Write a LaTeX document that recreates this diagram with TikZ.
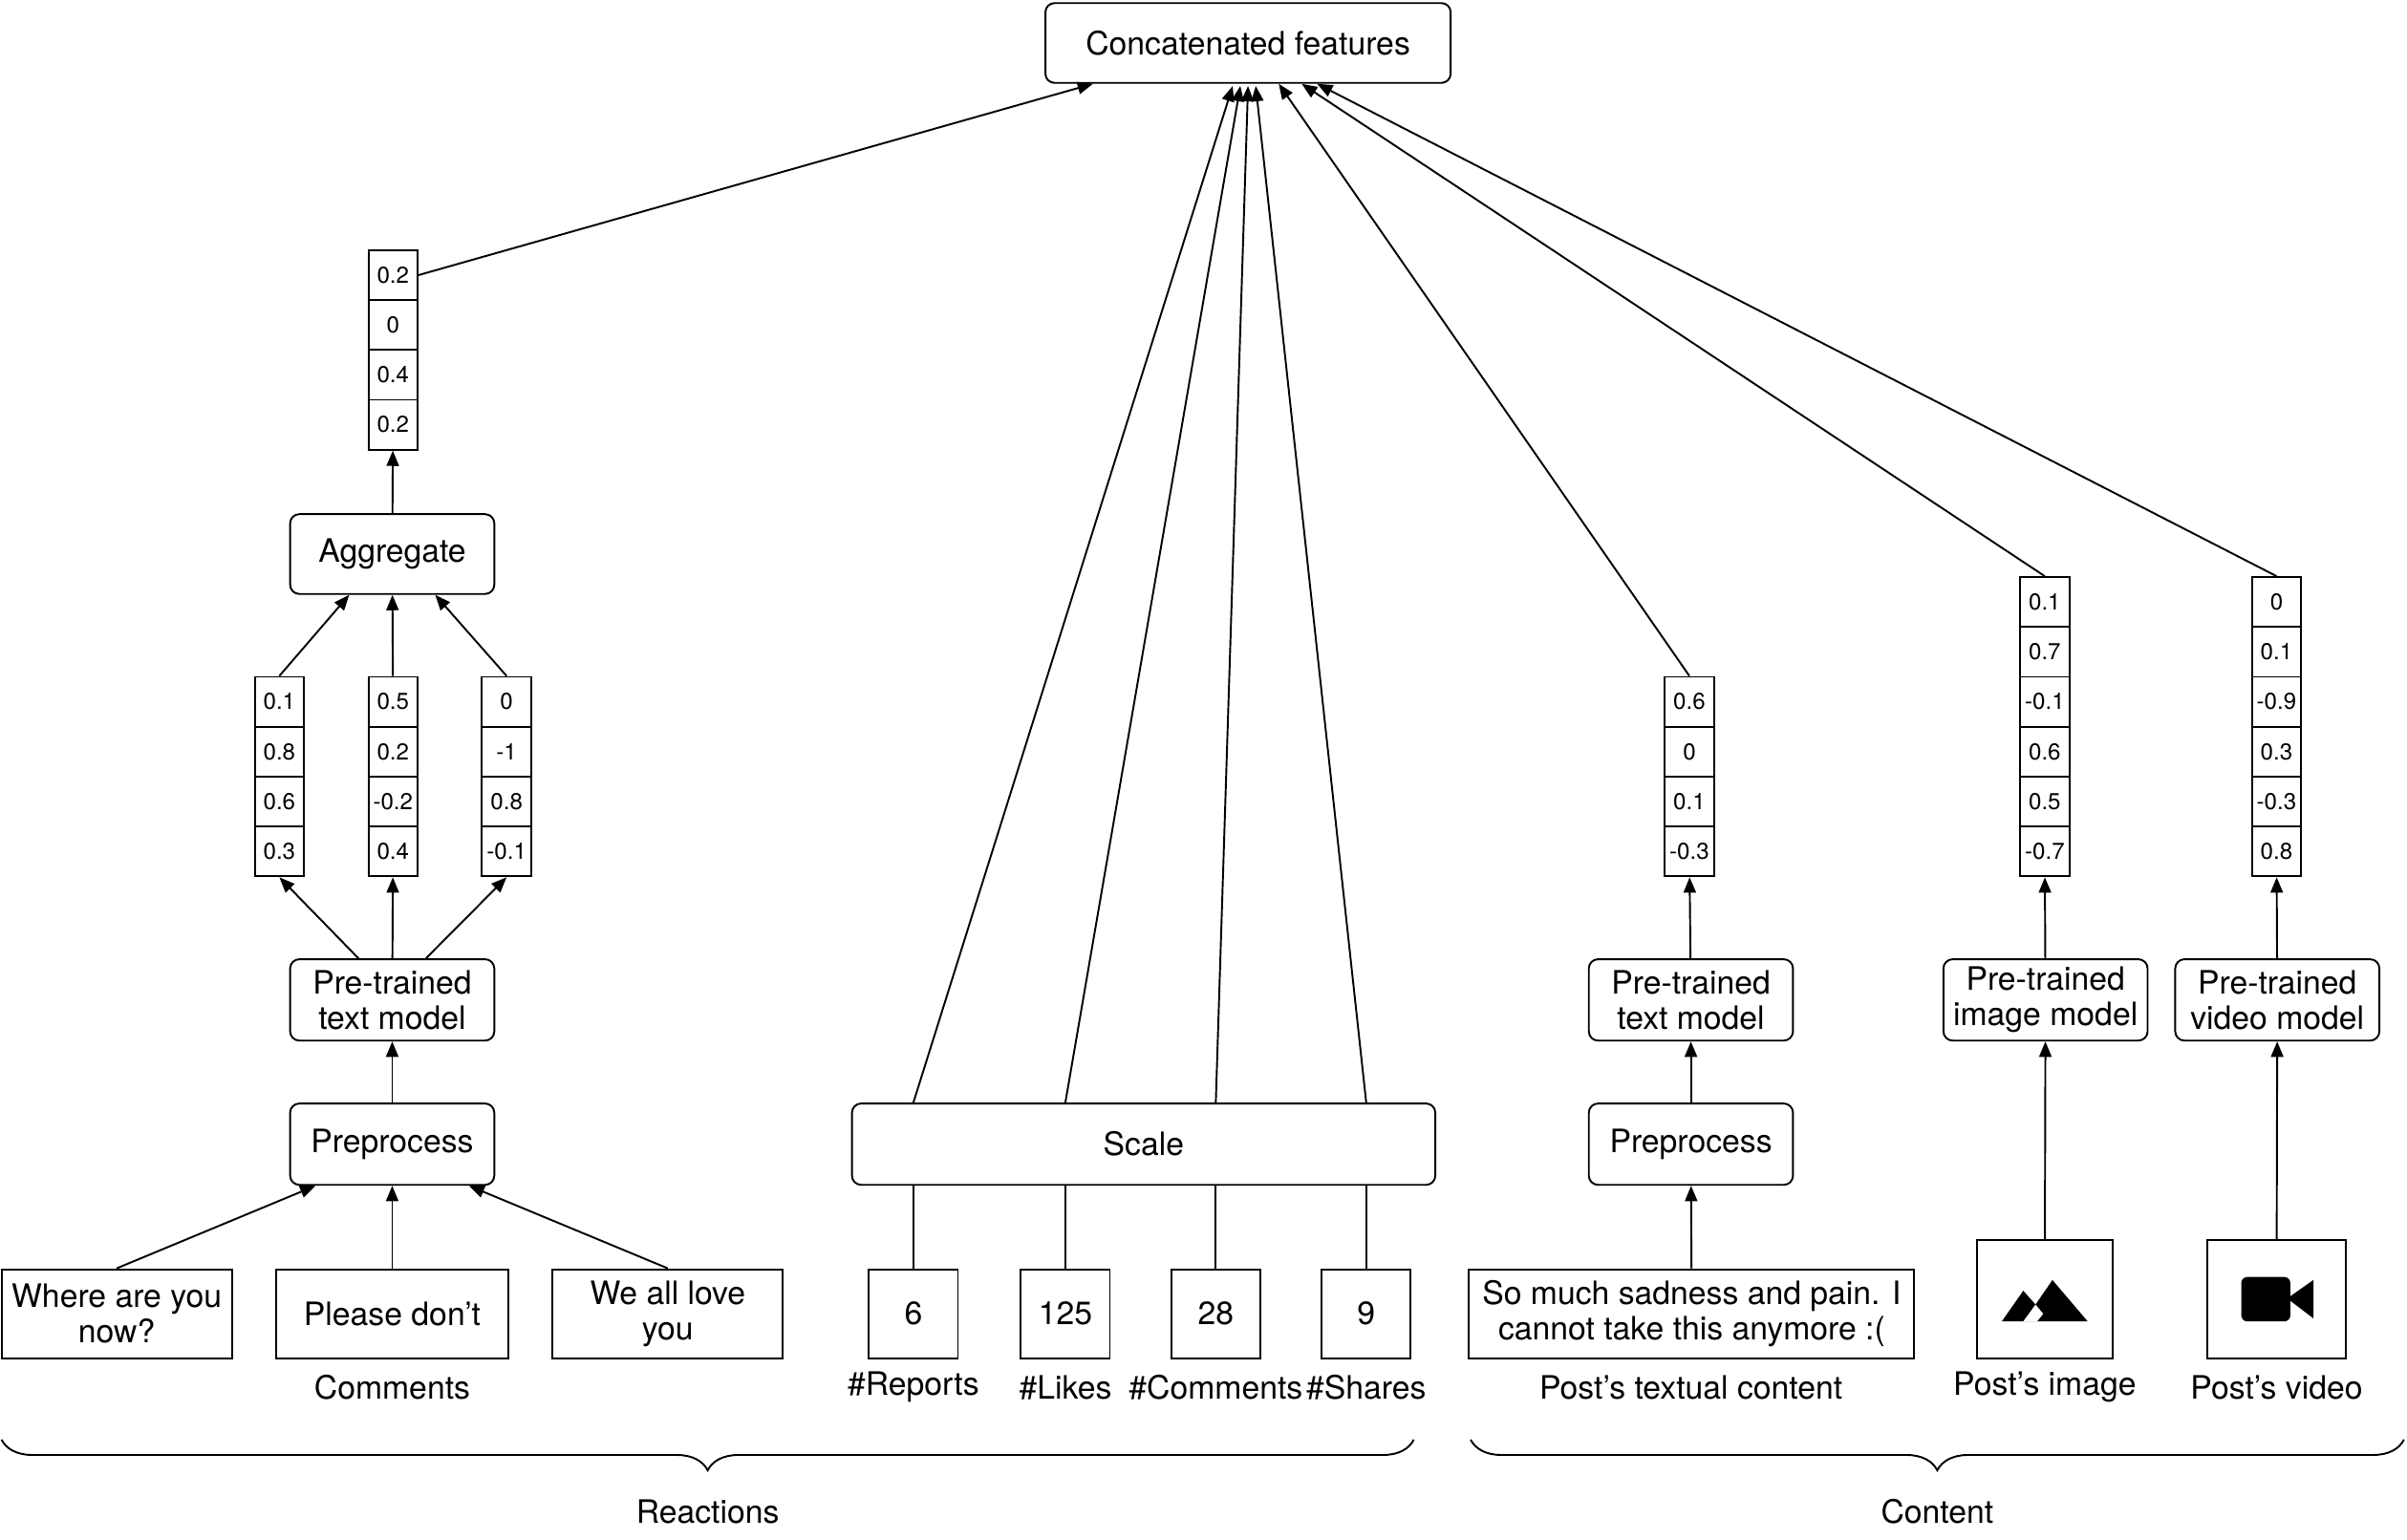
\documentclass[tikz,border=0pt]{standalone}
\usepackage{fontspec}
\setmainfont{TeX Gyre Heros}
\usetikzlibrary{arrows.meta,decorations.pathreplacing}
\begin{document}
\begin{tikzpicture}[x=0.5pt,y=-0.5pt,
  box/.style={draw,rounded corners=3pt,line width=0.6pt,align=center,font=\fontsize{10.5}{11.5}\selectfont,inner sep=0pt},
  sq/.style={draw,line width=0.6pt,align=center,font=\fontsize{10.5}{11.5}\selectfont,inner sep=0pt},
  cell/.style={draw,line width=0.6pt,minimum width=16pt,minimum height=16.25pt,inner sep=0pt,font=\fontsize{7.5}{8}\selectfont},
  lab/.style={font=\fontsize{10.5}{11.5}\selectfont},
  arr/.style={-{Triangle[length=5pt,width=4pt]},line width=0.6pt},
  ln/.style={line width=0.6pt}]
\useasboundingbox (0,0) rectangle (1568,1003);
\newcommand{\vect}[4]{% name, x, ytop, values
  \foreach \v [count=\i] in {#4}{
    \node[cell] (#1\i) at (#2,{#3+16.25+32.5*(\i-1)}) {\v};}}
\node[box,minimum width=132pt,minimum height=26pt] (cf) at (813,28) {Concatenated features};
% left branch
\vect{ag}{256}{163}{0.2,0,0.4,0.2}
\node[box,minimum width=66.5pt,minimum height=26pt] (agg) at (255.5,361) {Aggregate};
\vect{va}{182}{441}{0.1,0.8,0.6,0.3}
\vect{vb}{256}{441}{0.5,0.2,-0.2,0.4}
\vect{vc}{330}{441}{0,-1,0.8,-0.1}
\node[box,minimum width=66.5pt,minimum height=26.5pt] (ptl) at (255.5,651.5) {Pre-trained\\text model};
\node[box,minimum width=66.5pt,minimum height=26.5pt] (ppl) at (255.5,745.5) {Preprocess};
\node[sq,minimum width=75pt,minimum height=29pt] (c1) at (76,856) {Where are you\\now?};
\node[sq,minimum width=75.5pt,minimum height=29pt] (c2) at (255.5,856) {Please don’t};
\node[sq,minimum width=75pt,minimum height=29pt] (c3) at (435,856) {We all love\\you};
\node[lab] (lc) at (255.5,904) {Comments};
\draw[arr] (c1.north) -- ([xshift=-25pt]ppl.south);
\draw[arr] (c2) -- (ppl);
\draw[arr] (c3.north) -- ([xshift=25pt]ppl.south);
\draw[arr] (ppl) -- (ptl);
\draw[arr] ([xshift=-11pt]ptl.north) -- (va4.south);
\draw[arr] (ptl) -- (vb4);
\draw[arr] ([xshift=11pt]ptl.north) -- (vc4.south);
\draw[arr] (va1.north) -- ([xshift=-14pt]agg.south);
\draw[arr] (vb1) -- (agg);
\draw[arr] (vc1.north) -- ([xshift=14pt]agg.south);
\draw[arr] (agg) -- (ag4);
\draw[arr] (ag1.east) -- ([xshift=-50.5pt]cf.south);
% scale branch
\node[box,minimum width=190pt,minimum height=26.5pt] (sc) at (745,745.5) {Scale};
\foreach \n/\x/\v/\l/\t in {r/595/6/\#Reports/803,k/694/125/\#Likes/808,m/792/28/\#Comments/813,s/890/9/\#Shares/818}{
  \node[sq,minimum width=29pt,minimum height=29pt] (n\n) at (\x,856) {\v};
  \node[lab] (l\n) at (\x,904) {\l};
  \draw[ln] (n\n) -- (n\n|-sc.south);
  \coordinate (t\n) at (\t,56);
  \draw[arr] (n\n|-sc.north) -- (t\n);
}
% content text
\vect{vt}{1100.5}{441}{0.6,0,0.1,-0.3}
\node[box,minimum width=66.5pt,minimum height=26.5pt] (ptr) at (1101.5,651.5) {Pre-trained\\text model};
\node[box,minimum width=66.5pt,minimum height=26.5pt] (ppr) at (1101.5,745.5) {Preprocess};
\node[sq,minimum width=145pt,minimum height=29pt] (txt) at (1102,856) {So much sadness and pain. I\\cannot take this anymore :(};
\node[lab] (lt) at (1101.5,904) {Post’s textual content};
\draw[arr] (txt) -- (ppr);
\draw[arr] (ppr) -- (ptr);
\draw[arr] (ptr) -- (vt4);
\draw[arr] (vt1.north) -- ([xshift=10pt]cf.south);
% image
\vect{vi}{1332}{376}{0.1,0.7,-0.1,0.6,0.5,-0.7}
\node[box,minimum width=66.5pt,minimum height=26.5pt] (pti) at (1332.5,651.5) {Pre-trained\\image model};
\node[sq,minimum width=44pt,minimum height=38.5pt] (img) at (1332,846.5) {};
\fill (1304,861) -- (1318,841) -- (1326,850) -- (1337,834) -- (1360,861) -- cycle;
\fill[white] (1318,861) -- (1326,850) -- (1331,856) -- (1327,861) -- cycle;
\node[lab] (li) at (1332,904) {Post’s image};
\draw[arr] (img) -- (pti);
\draw[arr] (pti) -- (vi6);
\draw[arr] (vi1.north) -- ([xshift=17.5pt]cf.south);
% video
\vect{vv}{1483}{376}{0,0.1,-0.9,0.3,-0.3,0.8}
\node[box,minimum width=66.5pt,minimum height=26.5pt] (ptv) at (1483.5,651.5) {Pre-trained\\video model};
\node[sq,minimum width=45pt,minimum height=38.5pt] (vid) at (1483,846.5) {};
\fill[rounded corners=2pt] (1460,832) rectangle (1492,861);
\fill (1490,846) -- (1507,834) -- (1507,859) -- cycle;
\node[lab] (lv) at (1483,904) {Post’s video};
\draw[arr] (vid) -- (ptv);
\draw[arr] (ptv) -- (vv6);
\draw[arr] (vv1.north) -- ([xshift=22.5pt]cf.south);
% braces
\coordinate (b1) at (1,938); \coordinate (b2) at (921,938);
\coordinate (b3) at (958,938); \coordinate (b4) at (1566,938);
\draw[ln,decorate,decoration={brace,mirror,amplitude=10pt}] (b1) -- (b2);
\draw[ln,decorate,decoration={brace,mirror,amplitude=10pt}] (b3) -- (b4);
\node[lab] (rl) at (461,985) {Reactions};
\node[lab] (cl) at (1262,985) {Content};
\end{tikzpicture}
\end{document}
